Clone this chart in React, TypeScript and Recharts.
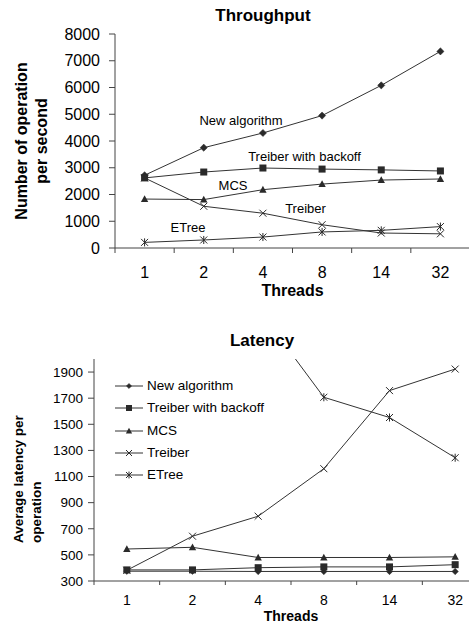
import React from 'react';
import { LineChart, Line, XAxis, YAxis, Legend } from 'recharts';

// ---------- data ----------
const threads = ['1', '2', '4', '8', '14', '32'];
const seriesNames = ['New algorithm', 'Treiber with backoff', 'MCS', 'Treiber', 'ETree'];
const seriesKeys = ['newAlgorithm', 'treiberBackoff', 'mcs', 'treiber', 'etree'];

// Throughput (operations per second)
const tpNewAlgorithm = [2720, 3750, 4300, 4950, 6080, 7350];
const tpTreiberBackoff = [2620, 2840, 2990, 2950, 2920, 2880];
const tpMCS = [1830, 1810, 2180, 2390, 2540, 2580];
const tpTreiber = [2620, 1560, 1300, 870, 560, 530];
const tpETree = [210, 300, 410, 600, 660, 800];
const throughputTicks = [0, 1000, 2000, 3000, 4000, 5000, 6000, 7000, 8000];

// Latency (average latency per operation)
const latNewAlgorithm = [375, 375, 373, 373, 373, 373];
const latTreiberBackoff = [385, 385, 402, 408, 408, 425];
const latMCS = [545, 558, 480, 480, 480, 485];
const latTreiber = [382, 643, 796, 1160, 1758, 1923];
const latETree = [4700, 3300, 2385, 1707, 1552, 1244];
const latencyTicks = [300, 500, 700, 900, 1100, 1300, 1500, 1700, 1900];

const bandTicks = [0, 0.5, 1, 1.5, 2, 2.5, 3, 3.5, 4, 4.5, 5, 5.5, 6];

const buildRows = (cols: number[][]) =>
  threads.map((t, i) => {
    const row: Record<string, any> = { threads: t, pos: i + 0.5 };
    seriesKeys.forEach((k, j) => {
      row[k] = cols[j][i];
    });
    return row;
  });

const throughputData = buildRows([tpNewAlgorithm, tpTreiberBackoff, tpMCS, tpTreiber, tpETree]);
const latencyData = buildRows([latNewAlgorithm, latTreiberBackoff, latMCS, latTreiber, latETree]);

// ---------- styles ----------
const FONT = '"Liberation Sans", Arial, Helvetica, sans-serif';
const LINE = '#333333';
const MARK = '#2a2a2a';
const AXIS = '#444444';

type ShapeKind = 'diamond' | 'square' | 'triangle' | 'cross' | 'asterisk';
const shapes: ShapeKind[] = ['diamond', 'square', 'triangle', 'cross', 'asterisk'];

function Marker({ shape, cx, cy, s }: { shape: ShapeKind; cx: number; cy: number; s: number }) {
  if (cx == null || cy == null || isNaN(cx) || isNaN(cy)) return <g />;
  switch (shape) {
    case 'diamond':
      return (
        <polygon
          points={`${cx},${cy - s} ${cx + s},${cy} ${cx},${cy + s} ${cx - s},${cy}`}
          fill={MARK}
          stroke={MARK}
          strokeWidth={0.5}
        />
      );
    case 'square':
      return <rect x={cx - s} y={cy - s} width={2 * s} height={2 * s} fill={MARK} />;
    case 'triangle':
      return (
        <polygon
          points={`${cx},${cy - s * 1.1} ${cx + s * 1.05},${cy + s * 0.85} ${cx - s * 1.05},${cy + s * 0.85}`}
          fill={MARK}
        />
      );
    case 'cross':
      return (
        <g stroke={MARK} strokeWidth={1}>
          <line x1={cx - s} y1={cy - s} x2={cx + s} y2={cy + s} />
          <line x1={cx - s} y1={cy + s} x2={cx + s} y2={cy - s} />
        </g>
      );
    case 'asterisk':
    default:
      return (
        <g stroke={MARK} strokeWidth={1}>
          <line x1={cx - s} y1={cy - s} x2={cx + s} y2={cy + s} />
          <line x1={cx - s} y1={cy + s} x2={cx + s} y2={cy - s} />
          <line x1={cx} y1={cy - s * 1.15} x2={cx} y2={cy + s * 1.15} />
        </g>
      );
  }
}

const makeDot = (shape: ShapeKind, s: number, prefix: string) => (props: any) => (
  <Marker key={`${prefix}-${props.index}`} shape={shape} cx={props.cx} cy={props.cy} s={s} />
);

const makeXTick = (tickLen: number, labelGap: number, fontSize: number) => (props: any) => {
  const { x, y, payload } = props;
  const v = payload.value as number;
  if (Number.isInteger(v)) {
    return <line x1={x} y1={y} x2={x} y2={y + tickLen} stroke={AXIS} strokeWidth={1} />;
  }
  const label = threads[Math.floor(v)];
  return (
    <text x={x} y={y + labelGap} dy="0.71em" textAnchor="middle" fontSize={fontSize} fontFamily={FONT} fill="#000">
      {label}
    </text>
  );
};

const renderLegend = () => (
  <div style={{ fontFamily: FONT, fontSize: 13.5, color: '#000' }}>
    {seriesNames.map((n, i) => (
      <div key={n} style={{ display: 'flex', alignItems: 'center', height: 22.25 }}>
        <svg width={28} height={12} style={{ overflow: 'visible', display: 'block' }}>
          <line x1={0} y1={6} x2={28} y2={6} stroke={LINE} strokeWidth={1} />
          <Marker shape={shapes[i]} cx={14} cy={6} s={shapes[i] === 'diamond' ? 2.6 : 3} />
        </svg>
        <span style={{ marginLeft: 4, whiteSpace: 'nowrap', lineHeight: '16px' }}>{n}</span>
      </div>
    ))}
  </div>
);

export default function App() {
  return (
    <div
      style={{
        position: 'absolute',
        left: 0,
        top: 0,
        width: 469,
        height: 622,
        overflow: 'hidden',
        background: '#fff',
        fontFamily: FONT,
      }}
    >
      {/* Throughput chart */}
      <div style={{ position: 'absolute', left: 0, top: 0 }}>
        <LineChart width={490} height={300} data={throughputData} margin={{ top: 34, right: 20, bottom: 0, left: 0 }}>
          <XAxis
            type="number"
            dataKey="pos"
            domain={[0, 6]}
            ticks={bandTicks}
            interval={0}
            height={52}
            tickSize={0}
            tickMargin={0}
            tickLine={false}
            axisLine={{ stroke: AXIS, strokeWidth: 1 }}
            tick={makeXTick(5, 19, 16)}
          />
          <YAxis
            type="number"
            domain={[0, 8000]}
            ticks={throughputTicks}
            interval={0}
            width={115}
            tickSize={6}
            tickMargin={9}
            axisLine={{ stroke: AXIS, strokeWidth: 1 }}
            tickLine={{ stroke: AXIS, strokeWidth: 1 }}
            tick={{ fontSize: 16, fill: '#000', fontFamily: FONT }}
          />
          {seriesKeys.map((k, i) => (
            <Line
              key={k}
              dataKey={k}
              name={seriesNames[i]}
              stroke={LINE}
              strokeWidth={1}
              dot={makeDot(shapes[i], shapes[i] === 'diamond' ? 3.6 : 3.5, `tp-${k}`)}
              activeDot={false}
              isAnimationActive={false}
            />
          ))}
        </LineChart>
      </div>

      {/* Latency chart */}
      <div style={{ position: 'absolute', left: 0, top: 300 }}>
        <LineChart width={500} height={322} data={latencyData} margin={{ top: 59, right: 12, bottom: 0, left: 0 }}>
          <XAxis
            type="number"
            dataKey="pos"
            domain={[0, 6]}
            ticks={bandTicks}
            interval={0}
            height={41}
            tickSize={0}
            tickMargin={0}
            tickLine={false}
            axisLine={{ stroke: AXIS, strokeWidth: 1 }}
            tick={makeXTick(4, 14, 14)}
          />
          <YAxis
            type="number"
            domain={[300, 2000]}
            allowDataOverflow
            ticks={latencyTicks}
            interval={0}
            width={94}
            tickSize={6}
            tickMargin={5}
            axisLine={{ stroke: AXIS, strokeWidth: 1 }}
            tickLine={{ stroke: AXIS, strokeWidth: 1 }}
            tick={{ fontSize: 13.5, fill: '#000', fontFamily: FONT }}
          />
          <Legend
            layout="vertical"
            align="center"
            verticalAlign="middle"
            content={renderLegend}
            wrapperStyle={{ left: 115, top: 75, width: 'auto' }}
          />
          {seriesKeys.map((k, i) => (
            <Line
              key={k}
              dataKey={k}
              name={seriesNames[i]}
              stroke={LINE}
              strokeWidth={1}
              dot={makeDot(shapes[i], shapes[i] === 'diamond' ? 3.2 : 3.5, `lat-${k}`)}
              activeDot={false}
              isAnimationActive={false}
            />
          ))}
        </LineChart>
      </div>

      {/* titles and labels */}
      <svg
        width={469}
        height={622}
        style={{ position: 'absolute', left: 0, top: 0, pointerEvents: 'none' }}
        fontFamily={FONT}
      >
        <text x={263} y={21} textAnchor="middle" fontSize={17} fontWeight="bold" fill="#000">
          Throughput
        </text>
        <text transform="translate(27,141) rotate(-90)" textAnchor="middle" fontSize={16} fontWeight="bold" fill="#000">
          Number of operation
        </text>
        <text transform="translate(46.5,141) rotate(-90)" textAnchor="middle" fontSize={16} fontWeight="bold" fill="#000">
          per second
        </text>
        <text x={292.5} y={296} textAnchor="middle" fontSize={16} fontWeight="bold" fill="#000">
          Threads
        </text>

        <text x={241} y={124.5} textAnchor="middle" fontSize={13} fill="#000">New algorithm</text>
        <text x={304.5} y={160.5} textAnchor="middle" fontSize={13} fill="#000">Treiber with backoff</text>
        <text x={233} y={189.5} textAnchor="middle" fontSize={13} fill="#000">MCS</text>
        <text x={305.5} y={213} textAnchor="middle" fontSize={13} fill="#000">Treiber</text>
        <text x={188} y={232} textAnchor="middle" fontSize={13} fill="#000">ETree</text>

        <text x={262} y={346} textAnchor="middle" fontSize={17} fontWeight="bold" fill="#000">
          Latency
        </text>
        <text transform="translate(22.5,543) rotate(-90)" textAnchor="start" fontSize={13.5} fontWeight="bold" fill="#000">
          Average latency per
        </text>
        <text transform="translate(40.5,543) rotate(-90)" textAnchor="start" fontSize={13.5} fontWeight="bold" fill="#000">
          operation
        </text>
        <text x={291} y={620.5} textAnchor="middle" fontSize={14} fontWeight="bold" fill="#000">
          Threads
        </text>
      </svg>
    </div>
  );
}
